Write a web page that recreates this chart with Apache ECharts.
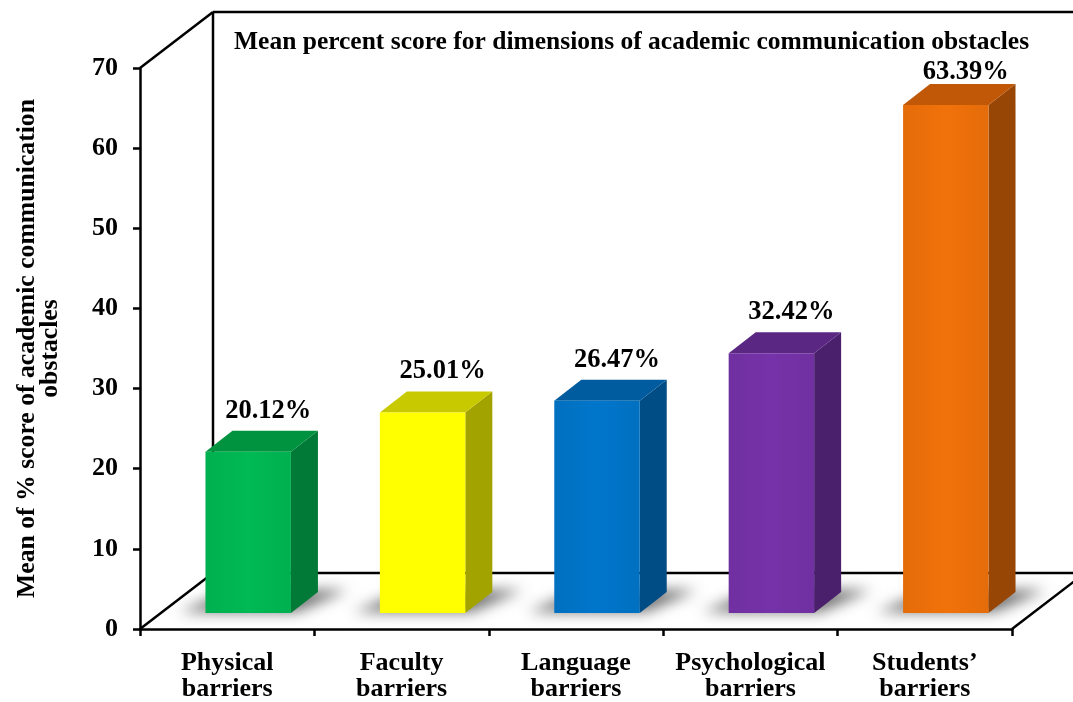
<!DOCTYPE html>
<html>
<head>
<meta charset="utf-8">
<script src="https://cdn.jsdelivr.net/npm/echarts@6/dist/echarts.min.js"></script>
<style>html,body{margin:0;padding:0;background:#fff}#c{width:1073px;height:702px}</style>
</head>
<body>
<div id="c"></div>
<script>
var categories = ['Physical\nbarriers', 'Faculty\nbarriers', 'Language\nbarriers', 'Psychological\nbarriers', 'Students\u2019\nbarriers'];
var values = [20.12, 25.01, 26.47, 32.42, 63.39];
var yMin = 0, yMax = 70, yStep = 10;
var frontColors = ['#00b050', '#ffff00', '#0070c0', '#7030a0', '#e46c0a'];
var sideColors  = ['#007a36', '#a3a300', '#004c84', '#4a1f6c', '#974606'];
var topColors   = ['#00933f', '#c9c900', '#005c9e', '#5a2783', '#c05808'];
var titleText = 'Mean percent score for dimensions of academic communication obstacles';
var yName = 'Mean of % score of academic communication\nobstacles';

var FONT = '"Liberation Serif", "Times New Roman", serif';
var chart = echarts.init(document.getElementById('c'));

function renderBar(params, api) {
  var i = api.value(0), v = api.value(1);
  var top = api.coord([i, v]);
  var base = api.coord([i, 0]);
  var bw = api.size([1, 0])[0] * 0.49;
  var ox = 21, oy = -16, dx = 27, dy = -21;
  var x0 = top[0] - bw / 2 + ox, x1 = x0 + bw;
  var yt = top[1] + oy, yb = base[1] + oy;
  var k = params.dataIndex;
  var far = 4000;
  var labelY = Math.max(yt - 41, params.coordSys.y + 4);
  return {
    type: 'group',
    children: [
      { type: 'polygon',
        shape: { points: [[x0 - 26 - far, yb - 1], [x1 + 6 - far, yb - 1], [x1 + dx + 30 - far, yb + dy - 2], [x0 + dx - far, yb + dy - 2]] },
        style: { fill: 'rgba(0,0,0,0.75)', shadowBlur: 14, shadowColor: 'rgba(0,0,0,0.75)', shadowOffsetX: far, shadowOffsetY: 0 } },
      { type: 'polygon',
        shape: { points: [[x1, yt], [x1 + dx, yt + dy], [x1 + dx, yb + dy], [x1, yb]] },
        style: { fill: sideColors[k] } },
      { type: 'polygon',
        shape: { points: [[x0, yt], [x0 + dx, yt + dy], [x1 + dx, yt + dy], [x1, yt]] },
        style: { fill: topColors[k] } },
      { type: 'rect',
        shape: { x: x0, y: yt, width: bw, height: yb - yt },
        style: { fill: new echarts.graphic.LinearGradient(0, 0, 1, 0, [
          { offset: 0, color: frontColors[k] },
          { offset: 0.5, color: echarts.color.lift(frontColors[k], -0.06) },
          { offset: 1, color: frontColors[k] }]) } },
      { type: 'text',
        style: { text: v.toFixed(2) + '%', x: x0 + bw / 2 + 20, y: labelY, align: 'center', verticalAlign: 'middle',
          font: 'bold 26.5px ' + FONT, fill: '#000' } }
    ]
  };
}

function renderFrame(params, api) {
  var cs = params.coordSys;
  var L = cs.x, R = cs.x + cs.width, T = cs.y, B = cs.y + cs.height;
  var DX = 73, DY = -56;
  var st = { stroke: '#000', lineWidth: 2.5, fill: null };
  function ln(a, b) { return { type: 'line', shape: { x1: a[0], y1: a[1], x2: b[0], y2: b[1] }, style: st }; }
  return {
    type: 'group',
    children: [
      ln([L, T], [L + DX, T + DY]),
      ln([L + DX, T + DY], [R + DX, T + DY]),
      ln([L + DX, T + DY], [L + DX, B + DY]),
      ln([L + DX, B + DY], [R + DX, B + DY]),
      ln([L, B], [L + DX, B + DY]),
      ln([R, B], [R + DX, B + DY])
    ]
  };
}

var option = {
  animation: false,
  backgroundColor: '#fff',
  title: {
    text: titleText, left: 229, top: 24,
    textStyle: { fontFamily: FONT, fontWeight: 'bold', fontSize: 25.5, color: '#000' }
  },
  grid: { left: 140, right: 61, top: 68, bottom: 72 },
  xAxis: {
    type: 'category', data: categories,
    axisLine: { lineStyle: { color: '#000', width: 2.5 } },
    axisTick: { show: true, interval: 0, length: 7, lineStyle: { color: '#000', width: 2.5 } },
    axisLabel: { interval: 0, margin: 21, fontFamily: FONT, fontWeight: 'bold', fontSize: 26, color: '#000', lineHeight: 26 },
    splitLine: { show: false }
  },
  yAxis: {
    type: 'value', min: yMin, max: yMax, interval: yStep,
    name: yName, nameLocation: 'middle', nameRotate: 90, nameGap: 78,
    nameTextStyle: { fontFamily: FONT, fontWeight: 'bold', fontSize: 25.7, color: '#000', lineHeight: 23 },
    axisLine: { show: true, lineStyle: { color: '#000', width: 2.5 } },
    axisTick: { show: true, length: 7, lineStyle: { color: '#000', width: 2.5 } },
    axisLabel: { margin: 22, fontFamily: FONT, fontWeight: 'bold', fontSize: 26, color: '#000' },
    splitLine: { show: false }
  },
  series: [
    { type: 'custom', renderItem: renderFrame, data: [[0, 0]], z: 1, silent: true },
    { type: 'custom', renderItem: renderBar, data: values.map(function (v, i) { return [i, v]; }), z: 2 }
  ]
};
chart.setOption(option);
</script>
</body>
</html>
